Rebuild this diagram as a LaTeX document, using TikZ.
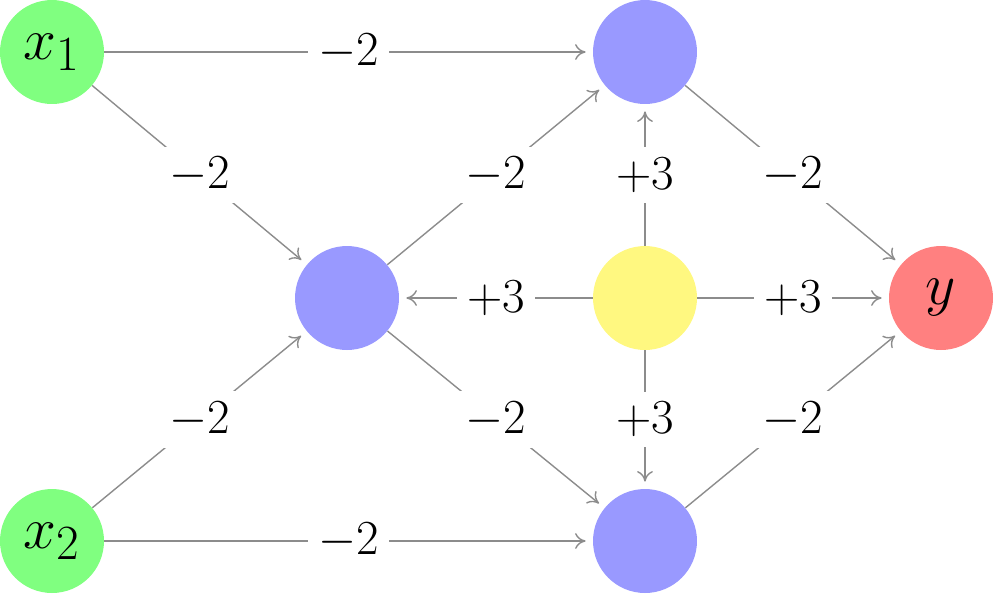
\documentclass[tikz,border=0pt]{standalone}
\usepackage{graphicx}
\usetikzlibrary{arrows.meta}
\newcommand{\nlab}[1]{\scalebox{1.35}{\Huge$#1$}}
\newcommand{\elab}[1]{\scalebox{1.12}{\Huge$#1$}}
\begin{document}
\begin{tikzpicture}[x=0.02cm,y=-0.02cm,
  neuron/.style={circle,minimum size=2.08cm,inner sep=0pt},
  edge/.style={draw=black!45,line width=0.8pt,-{To[length=6pt,width=9pt]},shorten >=4pt},
  lab/.style={fill=white,inner sep=6pt}]
\useasboundingbox (0,0) rectangle (994,593);
\node[neuron,fill=green!50] (x1) at (52,52) {\nlab{x_1}};
\node[neuron,fill=green!50] (x2) at (52,541) {\nlab{x_2}};
\node[neuron,fill=blue!40] (m) at (347,298) {};
\node[neuron,fill=blue!40] (t) at (645,52) {};
\node[neuron,fill=blue!40] (b) at (645,541) {};
\node[neuron,fill=yellow!50] (c) at (645,298) {};
\node[neuron,fill=red!50] (y) at (941,298) {\nlab{y}};
\draw[edge] (x1) -- node[lab]{\elab{-2}} (t);
\draw[edge] (x1) -- node[lab]{\elab{-2}} (m);
\draw[edge] (x2) -- node[lab]{\elab{-2}} (m);
\draw[edge] (x2) -- node[lab]{\elab{-2}} (b);
\draw[edge] (m) -- node[lab]{\elab{-2}} (t);
\draw[edge] (m) -- node[lab]{\elab{-2}} (b);
\draw[edge] (c) -- node[lab]{\elab{+3}} (t);
\draw[edge] (c) -- node[lab]{\elab{+3}} (b);
\draw[edge] (c) -- node[lab]{\elab{+3}} (m);
\draw[edge] (c) -- node[lab]{\elab{+3}} (y);
\draw[edge] (t) -- node[lab]{\elab{-2}} (y);
\draw[edge] (b) -- node[lab]{\elab{-2}} (y);
\end{tikzpicture}
\end{document}
